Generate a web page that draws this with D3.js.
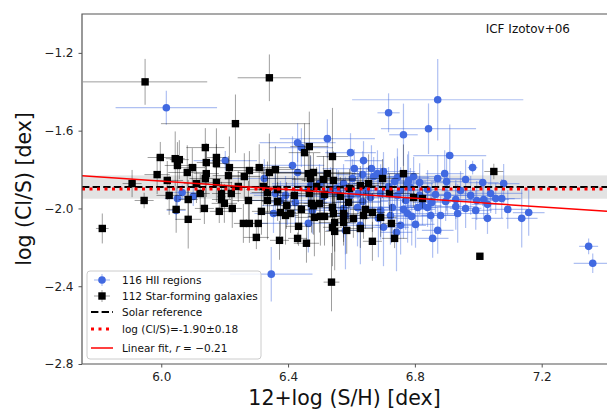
<!DOCTYPE html>
<html>
<head>
<meta charset="utf-8">
<script src="https://cdn.jsdelivr.net/npm/d3@7"></script>
<style>
  body { margin: 0; background: #fff; }
  text { font-family: "DejaVu Sans", sans-serif; }
</style>
</head>
<body>
<div id="chart"></div>
<script>
// [12+log(S/H), log(Cl/S), xerr, yerr]
const hiiRegions = [
  [6.016,-1.482,.16,.087],[6.872,-1.441,.27,.21],[6.717,-1.508,.035,.1],[6.764,-1.621,.045,.16],
  [6.843,-1.590,.15,.13],[6.910,-1.728,.115,.16],[6.982,-1.790,.015,.035],[6.597,-1.713,.08,.1],
  [6.609,-1.795,.1,.1],[6.663,-1.795,.05,.12],[6.635,-1.826,.08,.12],[6.701,-1.810,.1,.1],
  [6.894,-1.821,.06,.12],[6.900,-1.862,.05,.15],[6.872,-1.846,.08,.12],[6.960,-1.851,.05,.1],
  [7.014,-1.867,.05,.12],[7.080,-1.872,.05,.1],[6.780,-1.856,.1,.15],[6.670,-1.836,.08,.1],
  [7.039,-1.923,.1,.1],[7.017,-1.954,.08,.1],[7.055,-1.949,.06,.08],[7.074,-1.949,.06,.1],
  [7.029,-1.979,.05,.08],[7.093,-2.005,.06,.1],[7.137,-2.051,.05,.15],[7.159,-2.021,.05,.12],
  [7.029,-2.051,.05,.08],[6.929,-1.990,.06,.12],[6.935,-2.026,.1,.15],[6.960,-2.000,.05,.1],
  [6.903,-1.933,.06,.1],[6.897,-1.964,.08,.1],[7.348,-2.195,.03,.04],[7.361,-2.282,.06,.05],
  [6.856,-2.154,.05,.1],[6.347,-2.338,.13,.14],[6.430,-1.662,.12,.1],[6.442,-1.687,.1,.1],
  [6.524,-1.641,.15,.1],[6.202,-1.754,.1,.05],[6.066,-1.918,.05,.04],[6.051,-1.949,.04,.05],
  [6.101,-1.938,.03,.05],[6.047,-2.010,.03,.05],[6.325,-1.846,.1,.1],[6.376,-1.959,.1,.1],
  [6.354,-2.026,.06,.1],[6.398,-1.985,.08,.1],[6.360,-1.923,.08,.1],[6.430,-1.815,.1,.1],
  [6.499,-1.872,.15,.1],[6.471,-1.882,.12,.15],[6.682,-1.821,.08,.12],[6.745,-1.841,.1,.15],
  [6.796,-1.836,.08,.1],[6.736,-1.862,.1,.12],[6.777,-1.872,.08,.15],[6.660,-1.944,.1,.1],
  [6.692,-1.923,.1,.15],[6.745,-1.933,.1,.2],[6.771,-1.959,.08,.15],[6.809,-1.995,.06,.12],
  [6.840,-1.995,.08,.1],[6.764,-2.005,.1,.15],[6.729,-1.995,.08,.15],[6.685,-2.051,.1,.2],
  [6.723,-2.036,.08,.15],[6.742,-2.123,.05,.2],[6.802,-2.082,.06,.12],[6.872,-2.113,.05,.12],
  [6.701,-2.097,.08,.2],[6.464,-2.077,.15,.15],[6.423,-1.969,.1,.12],[6.619,-1.995,.1,.2],
  [6.575,-2.000,.1,.15],[6.464,-1.903,.12,.1],[6.512,-1.938,.1,.12],[6.559,-1.923,.08,.12],
  [6.597,-1.933,.08,.1],[6.414,-1.779,.1,.15],[6.786,-1.892,.08,.1],[6.840,-1.903,.06,.1],
  [6.865,-1.928,.05,.1],[6.929,-1.954,.06,.1],[6.790,-2.041,.06,.15],[6.692,-2.010,.08,.15],
  [6.824,-1.985,.06,.1],[6.622,-1.923,.08,.1],[6.591,-1.969,.1,.1],[6.575,-1.872,.1,.1],
  [6.777,-2.026,.06,.15],[6.635,-1.964,.08,.12],[6.581,-2.036,.08,.2],[6.534,-1.908,.1,.12],
  [6.755,-1.908,.1,.12],[6.628,-2.087,.06,.2],[6.881,-2.036,.06,.1],[6.976,-1.933,.06,.1],
  [6.992,-2.010,.05,.1],[6.553,-1.897,.1,.1],[6.603,-1.846,.1,.1],[6.647,-1.908,.08,.12],
  [6.717,-1.887,.1,.1],[6.815,-1.933,.08,.1],[6.853,-1.969,.06,.1],[6.944,-1.908,.06,.1],
  [6.995,-1.959,.05,.1],[6.755,-2.087,.08,.15],[6.850,-2.036,.08,.12],[6.581,-2.113,.06,.2],
  [6.477,-2.010,.1,.12],[6.392,-1.933,.1,.1],[6.815,-1.867,.08,.1],[6.638,-1.754,.06,.1]
];

const galaxies = [
  [5.949,-1.349,.196,.118],[6.341,-1.328,.10,.12],[6.234,-1.564,.235,.15],[5.814,-2.103,.02,.077],
  [6.537,-2.379,.025,.15],[7.005,-2.246,.01,.01],[7.049,-1.810,.03,.04],[5.908,-1.872,.03,.07],
  [5.946,-1.959,.03,.04],[5.987,-1.826,.04,.1],[5.997,-1.738,.04,.08],[6.019,-1.856,.05,.1],
  [6.025,-1.933,.04,.1],[6.047,-2.005,.03,.12],[6.085,-2.056,.04,.15],[6.085,-1.954,.03,.1],
  [6.044,-1.744,.03,.14],[6.057,-1.749,.03,.1],[6.051,-1.779,.04,.12],[6.082,-1.815,.06,.14],
  [6.098,-1.790,.04,.1],[6.139,-1.687,.06,.1],[6.142,-1.764,.03,.1],[6.142,-1.821,.04,.12],
  [6.139,-1.846,.05,.16],[6.136,-2.000,.03,.08],[6.123,-1.923,.03,.1],[6.174,-1.738,.03,.15],
  [6.174,-1.769,.04,.1],[6.183,-2.015,.03,.06],[6.199,-1.974,.04,.1],[6.215,-1.790,.05,.16],
  [6.212,-1.831,.05,.1],[6.224,-2.000,.03,.1],[6.190,-1.923,.03,.06],[6.221,-1.923,.03,.06],
  [6.190,-1.954,.03,.05],[6.243,-1.887,.06,.08],[6.262,-1.836,.05,.12],[6.278,-1.805,.05,.1],
  [6.309,-1.790,.1,.12],[6.259,-2.077,.03,.1],[6.278,-2.077,.03,.1],[6.306,-2.077,.03,.08],
  [6.300,-2.149,.04,.06],[6.316,-2.015,.03,.12],[6.335,-1.959,.06,.2],[6.341,-1.815,.1,.2],
  [6.360,-1.800,.08,.12],[6.335,-1.918,.05,.1],[6.367,-1.903,.1,.1],[6.373,-2.164,.03,.1],
  [6.376,-2.021,.05,.12],[6.392,-2.036,.04,.15],[6.408,-2.026,.1,.1],[6.430,-2.154,.03,.03],
  [6.458,-2.179,.04,.1],[6.442,-2.005,.05,.1],[6.452,-1.713,.05,.15],[6.467,-1.682,.06,.18],
  [6.464,-1.821,.15,.1],[6.480,-1.815,.12,.1],[6.474,-1.974,.05,.15],[6.471,-1.846,.15,.12],
  [6.499,-1.974,.05,.15],[6.502,-2.041,.04,.15],[6.524,-1.821,.1,.12],[6.512,-1.851,.1,.12],
  [6.540,-1.733,.05,.25],[6.540,-1.995,.05,.2],[6.547,-2.072,.05,.15],[6.547,-2.118,.03,.2],
  [6.543,-1.856,.1,.15],[6.490,-1.887,.06,.1],[6.467,-1.923,.06,.12],[6.515,-1.928,.05,.1],
  [6.543,-2.026,.04,.1],[6.591,-1.969,.05,.1],[6.420,-1.933,.05,.1],[6.480,-1.985,.05,.15],
  [6.483,-2.046,.06,.2],[6.515,-2.041,.05,.15],[6.540,-2.097,.03,.2],[6.575,-2.041,.04,.15],
  [6.575,-2.072,.04,.1],[6.606,-2.051,.05,.1],[6.638,-2.036,.04,.12],[6.644,-2.005,.05,.1],
  [6.666,-2.021,.04,.1],[6.654,-1.872,.05,.15],[6.698,-1.846,.05,.1],[6.720,-1.923,.08,.1],
  [6.726,-2.077,.03,.1],[6.736,-2.154,.04,.05],[6.666,-2.169,.03,.1],[6.764,-1.821,.05,.15],
  [6.796,-1.944,.04,.05],[6.824,-1.949,.04,.05],[6.628,-1.882,.06,.1],[6.594,-1.897,.05,.1],
  [6.575,-2.026,.05,.1],[6.367,-1.964,.05,.1],[6.174,-1.867,.05,.1],[6.395,-1.985,.05,.12],
  [6.433,-2.092,.04,.1],[6.585,-2.113,.04,.12],[6.628,-2.103,.04,.1],[6.692,-2.046,.05,.1],
  [6.322,-1.887,.05,.1],[6.275,-1.959,.05,.1],[6.111,-1.872,.04,.1],[6.565,-1.938,.05,.1]
];

const xTicks = [6.0, 6.4, 6.8, 7.2];
const yTicks = [-1.2, -1.6, -2.0, -2.4, -2.8];
const solarRef = -1.89;
const solarBand = [-1.95, -1.83];
const meanClS = -1.90;
const fitSlope = -0.111, fitIntercept = -1.193;

const width = 607, height = 412;
const margin = {left: 82, right: 0, top: 14, bottom: 48};

const svg = d3.select("#chart").append("svg")
  .attr("width", width)
  .attr("height", height);

const x = d3.scaleLinear().domain([5.75, 7.406]).range([margin.left, width - margin.right]);
const y = d3.scaleLinear().domain([-2.8, -1.0]).range([height - margin.bottom, margin.top]);

svg.append("defs").append("clipPath").attr("id", "clip")
  .append("rect")
  .attr("x", margin.left).attr("y", margin.top)
  .attr("width", width - margin.left - margin.right)
  .attr("height", height - margin.top - margin.bottom);

const plot = svg.append("g").attr("clip-path", "url(#clip)");

// solar band
plot.append("rect")
  .attr("x", margin.left)
  .attr("width", width - margin.left)
  .attr("y", y(solarBand[1]))
  .attr("height", y(solarBand[0]) - y(solarBand[1]))
  .attr("fill", "#000")
  .attr("fill-opacity", 0.11);

function drawErrors(g, data, color, opacity, w) {
  g.selectAll(".xe").data(data).enter().append("line")
    .attr("x1", d => x(d[0] - d[2])).attr("x2", d => x(d[0] + d[2]))
    .attr("y1", d => y(d[1])).attr("y2", d => y(d[1]))
    .attr("stroke", color).attr("stroke-opacity", opacity).attr("stroke-width", w);
  g.selectAll(".ye").data(data).enter().append("line")
    .attr("x1", d => x(d[0])).attr("x2", d => x(d[0]))
    .attr("y1", d => y(d[1] - d[3])).attr("y2", d => y(d[1] + d[3]))
    .attr("stroke", color).attr("stroke-opacity", opacity).attr("stroke-width", w);
}

const blue = "#4169e1";

const gHii = plot.append("g");
drawErrors(gHii, hiiRegions, blue, 0.42, 1.2);
gHii.selectAll("circle").data(hiiRegions).enter().append("circle")
  .attr("cx", d => x(d[0])).attr("cy", d => y(d[1]))
  .attr("r", 3.8)
  .attr("fill", blue);

const gGal = plot.append("g");
drawErrors(gGal, galaxies, "#000", 0.38, 1.0);
gGal.selectAll("rect").data(galaxies).enter().append("rect")
  .attr("x", d => x(d[0]) - 3.7).attr("y", d => y(d[1]) - 3.7)
  .attr("width", 7.4).attr("height", 7.4)
  .attr("fill", "#000");

// reference lines
plot.append("line")
  .attr("x1", margin.left).attr("x2", width)
  .attr("y1", y(solarRef)).attr("y2", y(solarRef))
  .attr("stroke", "#000").attr("stroke-width", 2)
  .attr("stroke-dasharray", "7.4,3.2");
plot.append("line")
  .attr("x1", margin.left).attr("x2", width)
  .attr("y1", y(meanClS)).attr("y2", y(meanClS))
  .attr("stroke", "red").attr("stroke-width", 3)
  .attr("stroke-dasharray", "3,4.5");
plot.append("line")
  .attr("x1", x(5.75)).attr("x2", x(7.406))
  .attr("y1", y(fitIntercept + fitSlope * 5.75))
  .attr("y2", y(fitIntercept + fitSlope * 7.406))
  .attr("stroke", "red").attr("stroke-width", 1.5);

// axes
const xAxis = svg.append("g")
  .attr("transform", `translate(0,${height - margin.bottom})`)
  .call(d3.axisBottom(x).tickValues(xTicks).tickFormat(d3.format(".1f")).tickSizeOuter(0).tickSize(3.5).tickPadding(5));
const yAxis = svg.append("g")
  .attr("transform", `translate(${margin.left},0)`)
  .call(d3.axisLeft(y).tickValues(yTicks).tickFormat(d3.format(".1f")).tickSizeOuter(0).tickSize(3.5).tickPadding(5));
[xAxis, yAxis].forEach(a => {
  a.select(".domain").remove();
  a.selectAll("line").attr("stroke", "#555");
  a.selectAll("text").attr("font-size", 12).attr("fill", "#222")
    .attr("font-family", '"DejaVu Sans", sans-serif');
});

// spines
svg.append("path")
  .attr("d", `M${width + 1},${margin.top}H${margin.left}V${height - margin.bottom}H${width + 1}`)
  .attr("fill", "none").attr("stroke", "#555").attr("stroke-width", 1.2);

// labels
svg.append("text")
  .attr("x", (margin.left + width) / 2).attr("y", 405)
  .attr("text-anchor", "middle").attr("font-size", 20.5).attr("fill", "#111")
  .text("12+log (S/H) [dex]");
svg.append("text")
  .attr("transform", `translate(31,${(margin.top + height - margin.bottom) / 2}) rotate(-90)`)
  .attr("text-anchor", "middle").attr("font-size", 20.5).attr("fill", "#111")
  .text("log (Cl/S) [dex]");
svg.append("text")
  .attr("x", 570).attr("y", 33)
  .attr("text-anchor", "end").attr("font-size", 12).attr("fill", "#111")
  .text("ICF Izotov+06");

// legend
const legend = svg.append("g");
legend.append("rect")
  .attr("x", 87).attr("y", 271).attr("width", 174).attr("height", 88)
  .attr("rx", 3).attr("fill", "#fff").attr("fill-opacity", 0.8)
  .attr("stroke", "#ccc").attr("stroke-width", 1);

const hx = 102;
const rows = [280, 296, 312, 329, 348];
// HII
legend.append("line").attr("x1", hx - 8).attr("x2", hx + 8).attr("y1", rows[0]).attr("y2", rows[0])
  .attr("stroke", blue).attr("stroke-opacity", 0.42).attr("stroke-width", 1.2);
legend.append("line").attr("x1", hx).attr("x2", hx).attr("y1", rows[0] - 6).attr("y2", rows[0] + 6)
  .attr("stroke", blue).attr("stroke-opacity", 0.42).attr("stroke-width", 1.2);
legend.append("circle").attr("cx", hx).attr("cy", rows[0]).attr("r", 3.8).attr("fill", blue);
// galaxies
legend.append("line").attr("x1", hx - 8).attr("x2", hx + 8).attr("y1", rows[1]).attr("y2", rows[1])
  .attr("stroke", "#000").attr("stroke-opacity", 0.38).attr("stroke-width", 1.0);
legend.append("line").attr("x1", hx).attr("x2", hx).attr("y1", rows[1] - 6).attr("y2", rows[1] + 6)
  .attr("stroke", "#000").attr("stroke-opacity", 0.38).attr("stroke-width", 1.0);
legend.append("rect").attr("x", hx - 3.7).attr("y", rows[1] - 3.7).attr("width", 7.4).attr("height", 7.4)
  .attr("fill", "#000");
// solar
legend.append("line").attr("x1", 91).attr("x2", 113).attr("y1", rows[2]).attr("y2", rows[2])
  .attr("stroke", "#000").attr("stroke-width", 2).attr("stroke-dasharray", "7.4,3.2");
// mean
legend.append("line").attr("x1", 91).attr("x2", 113).attr("y1", rows[3]).attr("y2", rows[3])
  .attr("stroke", "red").attr("stroke-width", 3).attr("stroke-dasharray", "3,4.5");
// fit
legend.append("line").attr("x1", 91).attr("x2", 113).attr("y1", rows[4]).attr("y2", rows[4])
  .attr("stroke", "red").attr("stroke-width", 1.5);

const labels = ["116 HII regions", "112 Star-forming galaxies", "Solar reference", "log (Cl/S)=-1.90±0.18"];
labels.forEach((t, i) => {
  legend.append("text").attr("x", 122).attr("y", rows[i] + 3.8)
    .attr("font-size", 10.5).attr("fill", "#111").text(t);
});
const fitText = legend.append("text").attr("x", 122).attr("y", rows[4] + 3.8)
  .attr("font-size", 10.5).attr("fill", "#111");
fitText.append("tspan").text("Linear fit, ");
fitText.append("tspan").attr("font-style", "italic").text("r");
fitText.append("tspan").text(" = \u22120.21");
</script>
</body>
</html>
